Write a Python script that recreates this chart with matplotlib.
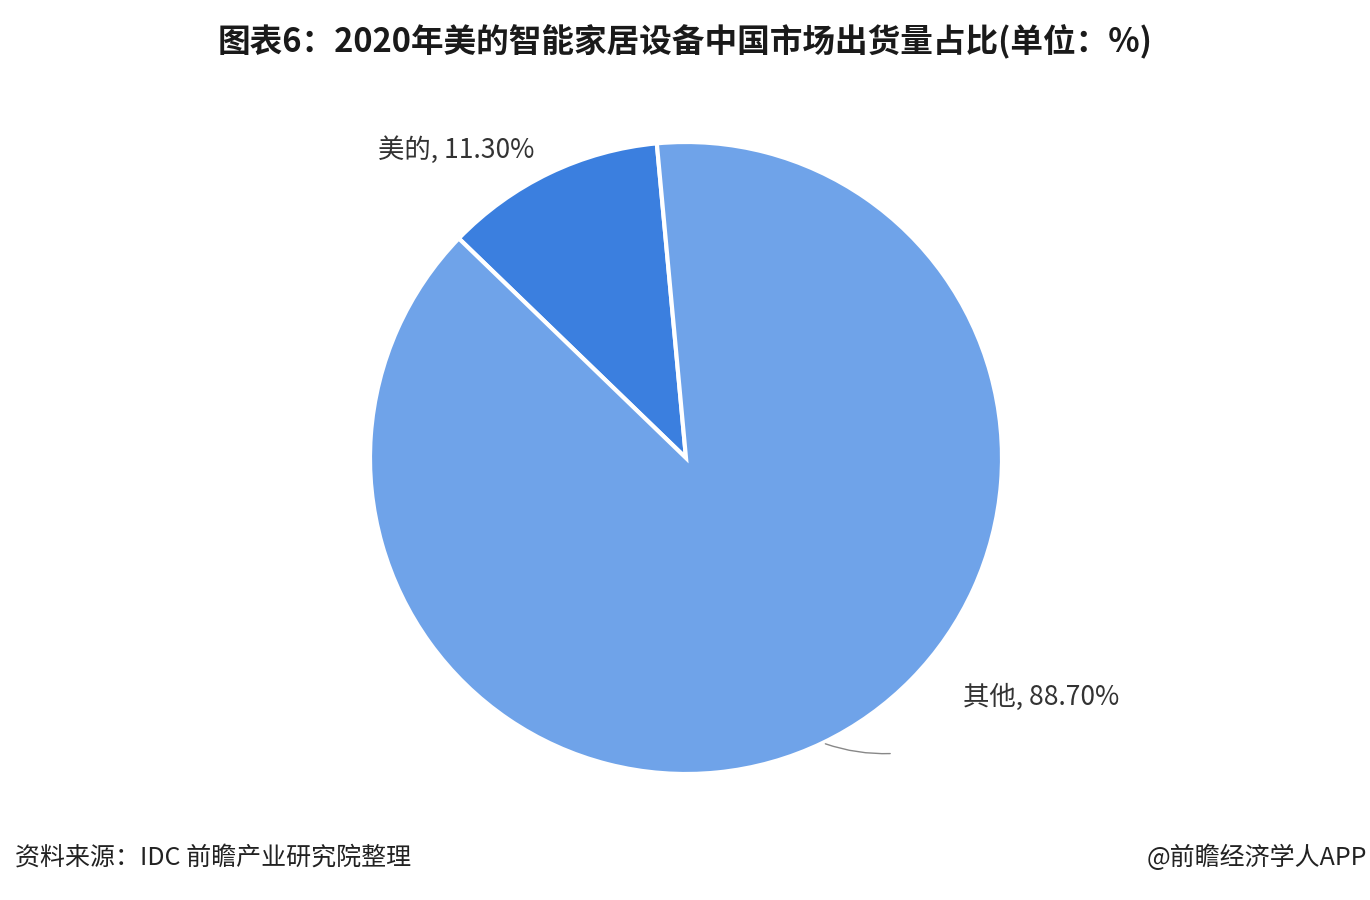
import numpy as np
import matplotlib
matplotlib.use("Agg")
import matplotlib.pyplot as plt

plt.rcParams["font.family"] = ["Noto Sans CJK SC", "DejaVu Sans"]

# data
categories = ["美的", "其他"]
shares = [11.30, 88.70]
colors = ["#3b7fdf", "#6fa3e9"]

TITLE = "图表6：2020年美的智能家居设备中国市场出货量占比(单位：%)"
SOURCE = "资料来源：IDC 前瞻产业研究院整理"
BRAND = "@前瞻经济学人APP"

W, H = 1370, 900
fig = plt.figure(figsize=(W / 100, H / 100), dpi=100, facecolor="white")

# pie centre ~ (686, 458) px, radius ~ 316 px
cx, cy, r = 686, 458, 316
ax = fig.add_axes([(cx - r) / W, (H - cy - r) / H, 2 * r / W, 2 * r / H])
wedges, _ = ax.pie(
    shares,
    colors=colors,
    startangle=95.3,
    counterclock=True,
    wedgeprops=dict(edgecolor="white", linewidth=3),
)
ax.set_xlim(-1, 1)
ax.set_ylim(-1, 1)
ax.set_aspect("equal")
ax.axis("off")

label_pos = {"美的": (-0.975, 0.975), "其他": (0.877, -0.756)}
for w, cat, val in zip(wedges, categories, shares):
    txt = f"{cat}, {val:.2f}%"
    tx, ty = label_pos[cat]
    if cat == "其他":
        mid = np.deg2rad((w.theta1 + w.theta2) / 2)
        ax.annotate(
            "",
            xy=(np.cos(mid), np.sin(mid)),
            xytext=(0.655, -0.935),
            arrowprops=dict(arrowstyle="-", color="#888888", lw=1,
                            connectionstyle="arc3,rad=-0.1"),
            annotation_clip=False,
        )
    ax.text(tx, ty, txt, fontsize=19, color="#333333", ha="left", va="center")

fig.text(0.5, 1 - 42 / H, TITLE, ha="center", va="center", fontsize=23.5,
         fontweight="bold", color="#1a1a1a")
fig.text(15 / W, 1 - 858 / H, SOURCE, ha="left", va="center", fontsize=18,
         color="#222222")
fig.text(1367 / W, 1 - 858 / H, BRAND, ha="right", va="center", fontsize=18,
         color="#222222")

fig.savefig("out.png", dpi=100, facecolor="white")
